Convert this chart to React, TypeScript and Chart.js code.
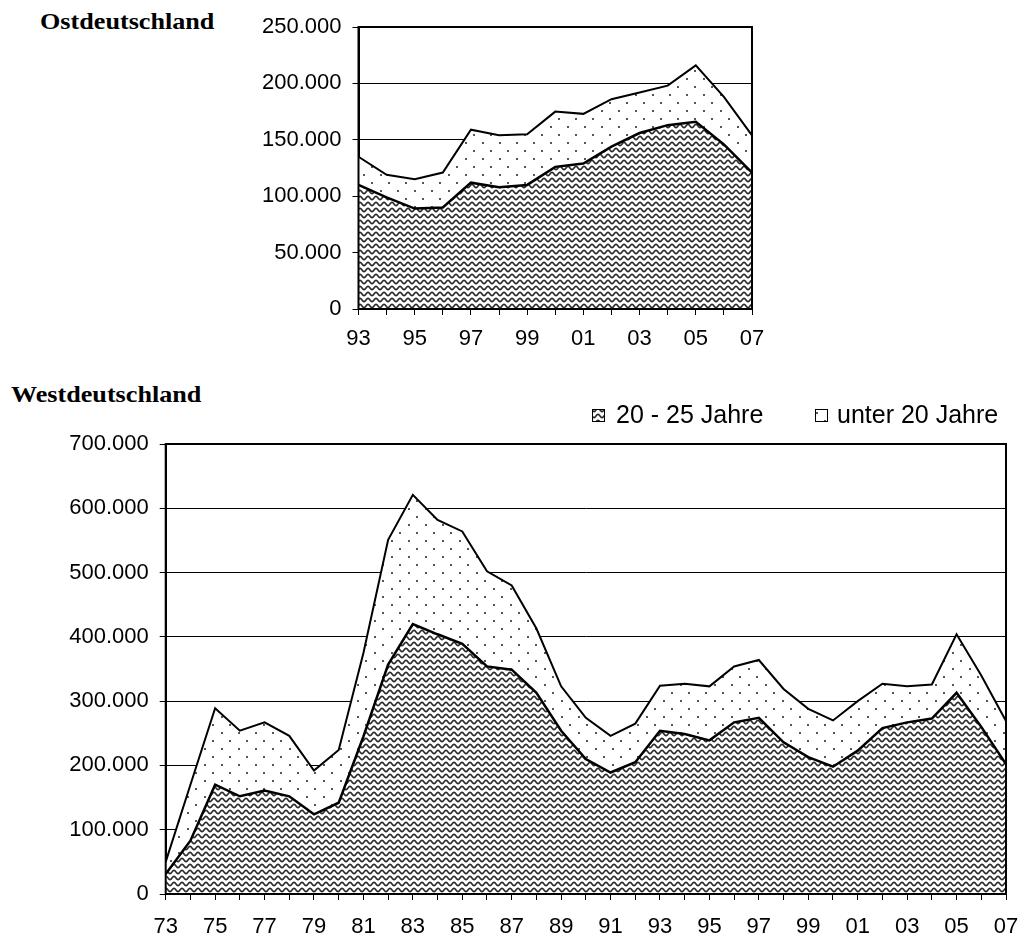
import React, { useEffect, useRef } from 'react';
import { Chart, registerables } from 'chart.js';

Chart.register(...registerables);

// ---------- Data ----------
const ostYears = ['93', '94', '95', '96', '97', '98', '99', '00', '01', '02', '03', '04', '05', '06', '07'];
const ost2025 = [110000, 99000, 89000, 90000, 112000, 108000, 110000, 126000, 129000, 144000, 156000, 163000, 166000, 146000, 121000];
const ostUnter20 = [25000, 20000, 26000, 31000, 47000, 46000, 45000, 49000, 44000, 42000, 36000, 35000, 50000, 42000, 33000];
const ostYTickLabels = ['0', '50.000', '100.000', '150.000', '200.000', '250.000'];

const westYears = [
  '73', '74', '75', '76', '77', '78', '79', '80', '81', '82',
  '83', '84', '85', '86', '87', '88', '89', '90', '91', '92',
  '93', '94', '95', '96', '97', '98', '99', '00', '01', '02',
  '03', '04', '05', '06', '07',
];
const west2025 = [
  31000, 83000, 170000, 152000, 161000, 152000, 124000, 142000, 245000, 357000,
  420000, 404000, 389000, 354000, 349000, 313000, 254000, 210000, 189000, 205000,
  254000, 249000, 239000, 267000, 274000, 236000, 213000, 198000, 223000, 258000,
  267000, 273000, 313000, 260000, 202000,
];
const westUnter20 = [
  19000, 87000, 119000, 102000, 106000, 94000, 68000, 82000, 130000, 194000,
  201000, 178000, 175000, 148000, 131000, 100000, 69000, 64000, 57000, 60000,
  70000, 78000, 84000, 87000, 90000, 83000, 75000, 72000, 77000, 69000,
  56000, 53000, 91000, 80000, 67000,
];
const westYTickLabels = ['0', '100.000', '200.000', '300.000', '400.000', '500.000', '600.000', '700.000'];

const seriesLabels = ['20 - 25 Jahre', 'unter 20 Jahre'];
const titles = ['Ostdeutschland', 'Westdeutschland'];

// ---------- Helpers ----------
const SANS = '"Liberation Sans", Arial, sans-serif';

function wavePattern(ctx: CanvasRenderingContext2D): CanvasPattern {
  const c = document.createElement('canvas');
  c.width = 8;
  c.height = 6;
  const g = c.getContext('2d') as CanvasRenderingContext2D;
  g.fillStyle = '#ffffff';
  g.fillRect(0, 0, 8, 6);
  g.strokeStyle = '#2a2a2a';
  g.lineWidth = 1.6;
  g.beginPath();
  for (let x = -1; x <= 9; x += 0.5) {
    const y = 3 + 1.7 * Math.cos((2 * Math.PI * x) / 8);
    if (x === -1) g.moveTo(x, y);
    else g.lineTo(x, y);
  }
  g.stroke();
  return ctx.createPattern(c, 'repeat') as CanvasPattern;
}

function dotPattern(ctx: CanvasRenderingContext2D): CanvasPattern {
  const c = document.createElement('canvas');
  c.width = 17;
  c.height = 16;
  const g = c.getContext('2d') as CanvasRenderingContext2D;
  g.fillStyle = '#ffffff';
  g.fillRect(0, 0, 17, 16);
  g.fillStyle = '#555555';
  g.fillRect(1, 1, 2, 2);
  g.fillRect(9, 9, 2, 2);
  return ctx.createPattern(c, 'repeat') as CanvasPattern;
}

const framePlugin = {
  id: 'frame',
  afterDatasetsDraw(chart: any) {
    const { ctx, chartArea } = chart;
    ctx.save();
    ctx.strokeStyle = '#000';
    ctx.lineWidth = 2;
    ctx.strokeRect(chartArea.left, chartArea.top, chartArea.right - chartArea.left, chartArea.bottom - chartArea.top);
    ctx.restore();
  },
};

function makeLegendPlugin(offsets: number[], textGaps: number[], boxY: number, baseline: number) {
  return {
    id: 'patternLegend',
    afterDraw(chart: any) {
      const { ctx, chartArea } = chart;
      ctx.save();
      ctx.font = `25px ${SANS}`;
      ctx.textBaseline = 'alphabetic';
      ctx.textAlign = 'left';
      chart.data.datasets.forEach((ds: any, i: number) => {
        const bx = Math.round(chartArea.right - offsets[i]);
        ctx.fillStyle = ds.backgroundColor;
        ctx.fillRect(bx, boxY, 12, 12);
        ctx.strokeStyle = '#000';
        ctx.lineWidth = 1;
        ctx.strokeRect(bx + 0.5, boxY + 0.5, 12, 12);
        ctx.fillStyle = '#000';
        ctx.fillText(ds.label, bx + textGaps[i], baseline);
      });
      ctx.restore();
    },
  };
}

function buildConfig(
  ctx: CanvasRenderingContext2D,
  years: string[],
  bottom: number[],
  top: number[],
  yMax: number,
  yStep: number,
  yLabels: string[],
  yWidth: number,
  xHeight: number,
  xPad: number,
  padding: any,
  plugins: any[]
): any {
  return {
    type: 'line',
    data: {
      labels: years,
      datasets: [
        {
          label: seriesLabels[0],
          data: bottom,
          fill: 'origin',
          backgroundColor: wavePattern(ctx),
          borderColor: '#000',
          borderWidth: 2.5,
          pointRadius: 0,
          tension: 0,
        },
        {
          label: seriesLabels[1],
          data: top,
          fill: '-1',
          backgroundColor: dotPattern(ctx),
          borderColor: '#000',
          borderWidth: 2,
          pointRadius: 0,
          tension: 0,
        },
      ],
    },
    options: {
      responsive: false,
      animation: false,
      devicePixelRatio: 1,
      layout: { padding },
      plugins: {
        legend: { display: false },
        tooltip: { enabled: false },
        title: { display: false },
      },
      scales: {
        x: {
          type: 'category',
          offset: false,
          grid: { drawOnChartArea: false, drawTicks: true, tickLength: 6, color: '#000', lineWidth: 1 },
          border: { display: true, color: '#000', width: 2 },
          ticks: {
            autoSkip: false,
            maxRotation: 0,
            minRotation: 0,
            padding: xPad,
            color: '#000',
            font: { family: SANS, size: 22 },
            callback: (_v: any, i: number) => (i % 2 === 0 ? years[i] : ''),
          },
          afterFit: (s: any) => {
            s.height = xHeight;
          },
        },
        y: {
          stacked: true,
          min: 0,
          max: yMax,
          grid: { color: '#000', lineWidth: 1, drawTicks: true, tickLength: 6 },
          border: { display: true, color: '#000', width: 2 },
          ticks: {
            stepSize: yStep,
            padding: 11,
            color: '#000',
            font: { family: SANS, size: 22 },
            callback: (_v: any, i: number) => yLabels[i],
          },
          afterFit: (s: any) => {
            s.width = yWidth;
          },
        },
      },
    },
    plugins,
  };
}

const titleStyle: React.CSSProperties = {
  position: 'absolute',
  fontFamily: '"Liberation Serif", "Times New Roman", serif',
  fontWeight: 'bold',
  fontSize: '23px',
  lineHeight: '23px',
  whiteSpace: 'nowrap',
  transform: 'scaleX(1.137)',
  transformOrigin: 'left top',
  color: '#000',
};

export default function App() {
  const ostRef = useRef<HTMLCanvasElement | null>(null);
  const westRef = useRef<HTMLCanvasElement | null>(null);

  useEffect(() => {
    const ostCtx = ostRef.current!.getContext('2d') as CanvasRenderingContext2D;
    const westCtx = westRef.current!.getContext('2d') as CanvasRenderingContext2D;

    const ostChart = new Chart(
      ostCtx,
      buildConfig(ostCtx, ostYears, ost2025, ostUnter20, 250000, 50000, ostYTickLabels, 98.5, 50, 11,
        { top: 30, right: 30, left: 0, bottom: 0 }, [framePlugin])
    );
    const westChart = new Chart(
      westCtx,
      buildConfig(westCtx, westYears, west2025, westUnter20, 700000, 100000, westYTickLabels, 115.7, 40, 14,
        { top: 49, right: 30, left: 0, bottom: 0 },
        [framePlugin, makeLegendPlugin([414, 191], [24, 22], 14, 28)])
    );

    return () => {
      ostChart.destroy();
      westChart.destroy();
    };
  }, []);

  return (
    <div style={{ position: 'absolute', left: 0, top: 0, width: 1019, height: 936, background: '#fff', overflow: 'hidden' }}>
      <div style={{ ...titleStyle, left: 40, top: 10 }}>{titles[0]}</div>
      <div style={{ ...titleStyle, left: 11, top: 383 }}>{titles[1]}</div>
      <canvas
        ref={ostRef}
        width={522}
        height={362}
        style={{ position: 'absolute', left: 260, top: -3, width: 522, height: 362 }}
      />
      <canvas
        ref={westRef}
        width={986}
        height={539}
        style={{ position: 'absolute', left: 50, top: 395, width: 986, height: 539 }}
      />
    </div>
  );
}
